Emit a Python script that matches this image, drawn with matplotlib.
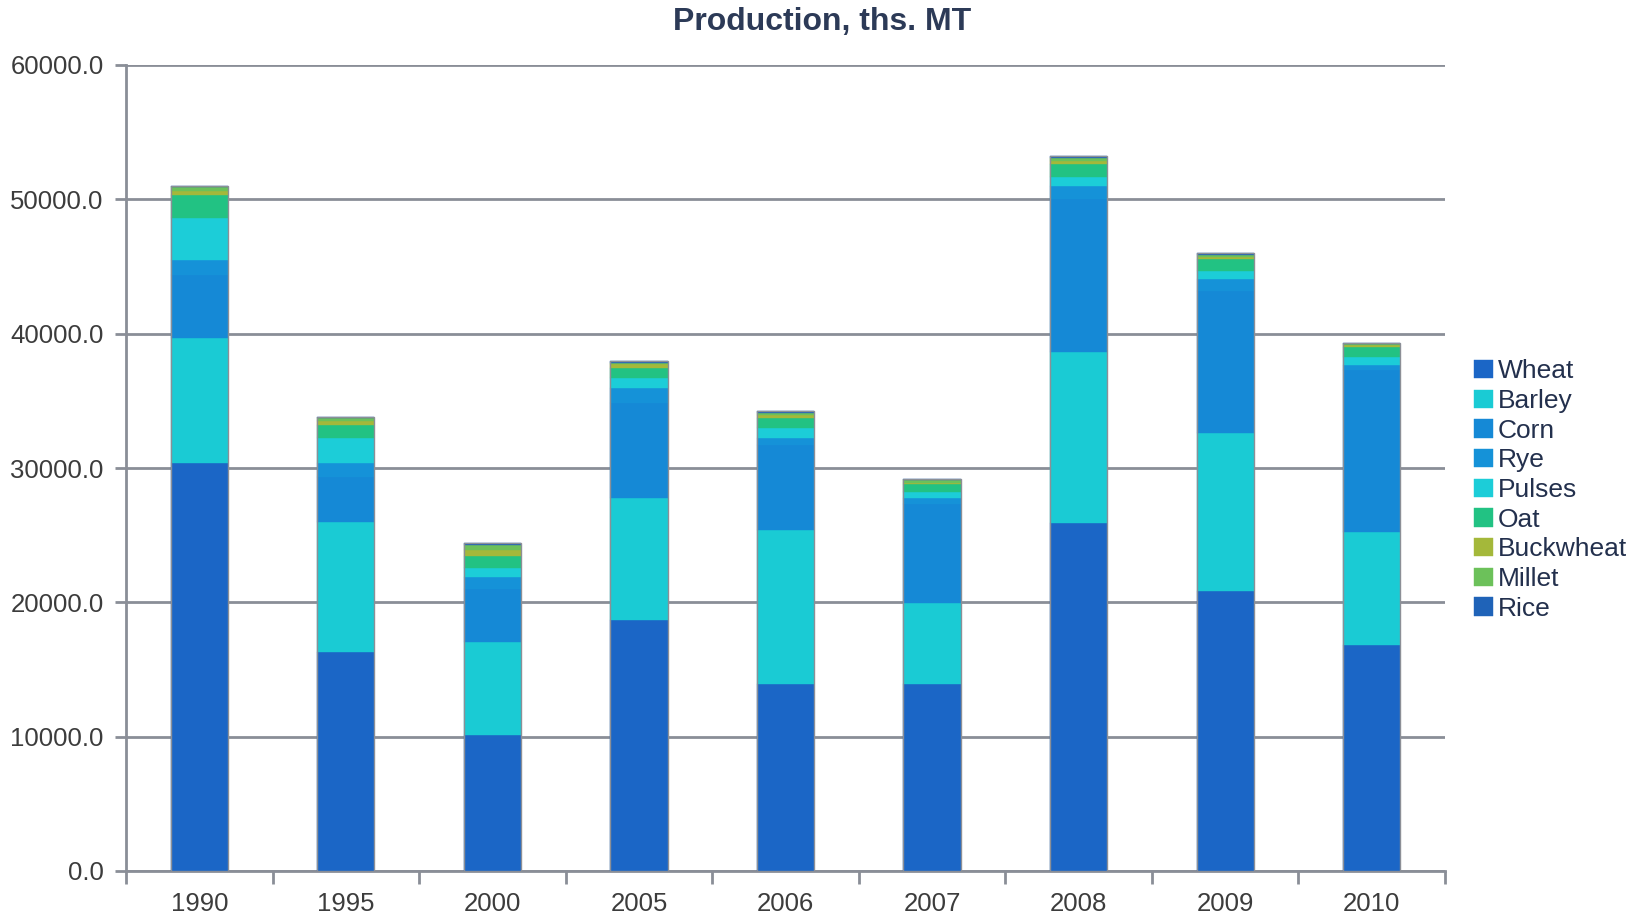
import numpy as np
import matplotlib
matplotlib.use("Agg")
import matplotlib.pyplot as plt

plt.rcParams['font.family'] = ['Liberation Sans', 'DejaVu Sans']

years = ['1990', '1995', '2000', '2005', '2006', '2007', '2008', '2009', '2010']

# thousand tonnes, stacked bottom -> top
wheat     = [30400, 16300, 10100, 18700, 13900, 13900, 25900, 20850, 16800]
barley    = [9250, 9650, 6950, 9050, 11450, 6050, 12750, 11750, 8450]
corn      = [4700, 3350, 3950, 7100, 6350, 7400, 11350, 10550, 12050]
rye       = [1100, 1050, 850, 1100, 550, 450, 1000, 950, 400]
pulses    = [3150, 1850, 700, 750, 700, 380, 650, 600, 600]
oat       = [1700, 1000, 900, 750, 800, 600, 1000, 850, 700]
buckwheat = [350, 300, 480, 280, 230, 130, 190, 190, 130]
millet    = [250, 200, 350, 110, 130, 180, 260, 130, 80]
rice      = [100, 100, 110, 90, 110, 100, 100, 120, 130]

series = [
    ('Wheat', wheat, '#1b66c6'),
    ('Barley', barley, '#1acbd4'),
    ('Corn', corn, '#1589d6'),
    ('Rye', rye, '#1592d8'),
    ('Pulses', pulses, '#1ccdd8'),
    ('Oat', oat, '#22c283'),
    ('Buckwheat', buckwheat, '#a4b83a'),
    ('Millet', millet, '#6cc15a'),
    ('Rice', rice, '#1f63b8'),
]

fig = plt.figure(figsize=(16.44, 9.16), dpi=100)
ax = fig.add_axes([126/1644, 1-871/916, (1445-126)/1644, (871-65)/916])

x = np.arange(len(years))
w = 0.39
bottom = np.zeros(len(years))
handles = []
for name, vals, col in series:
    b = ax.bar(x, vals, w, bottom=bottom, color=col, edgecolor=col, linewidth=0.3, label=name, zorder=3)
    handles.append(b)
    bottom += np.array(vals)

# thin grey outline around each whole bar
ax.bar(x, bottom, w, fill=False, edgecolor='#8c8f96', linewidth=1.0, zorder=4)

ax.set_xlim(-0.5, len(years) - 0.5)
ax.set_ylim(0, 60000)
ax.set_yticks(np.arange(0, 60001, 10000))
ax.set_yticklabels(['%.1f' % v for v in np.arange(0, 60001, 10000)])
ax.yaxis.grid(True, color='#8a8e97', linewidth=2.0, zorder=0)
ax.set_axisbelow(True)

ax.set_xticks(x)
ax.set_xticklabels(years)
ax.set_xticks(np.arange(-0.5, len(years)), minor=True)
ax.tick_params(axis='x', which='major', length=0, pad=15, labelsize=18.5, labelcolor='#3c3c3c')
ax.tick_params(axis='x', which='minor', length=9, width=2, color='#8a8e97', direction='out')
ax.tick_params(axis='y', length=8, width=2, color='#8a8e97', pad=8, labelsize=18.5, labelcolor='#3c3c3c')

for s in ['top', 'right']:
    ax.spines[s].set_visible(False)
for s in ['left', 'bottom']:
    ax.spines[s].set_color('#8a8e97')
    ax.spines[s].set_linewidth(2)

fig.text(0.5, 1-22/916, 'Production, ths. MT', ha='center', va='center',
         fontsize=23, fontweight='bold', color='#2c3a57')

leg = fig.legend(handles=handles, loc='center left', bbox_to_anchor=(1461/1644, 1-490/916),
                 frameon=False, fontsize=19, labelspacing=0.215, handlelength=0.7,
                 handleheight=0.7, handletextpad=0.2, borderpad=0)
for t in leg.get_texts():
    t.set_color('#23304d')

fig.savefig('out.png', dpi=100)
